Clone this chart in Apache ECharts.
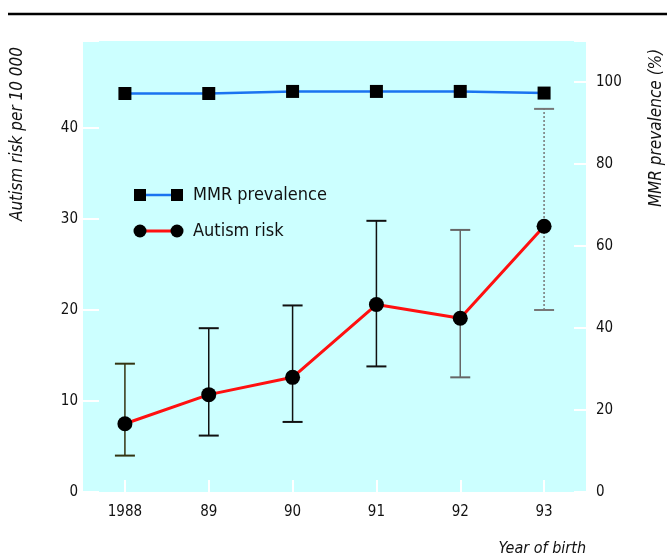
<!DOCTYPE html>
<html>
<head>
<meta charset="utf-8">
<script src="https://cdn.jsdelivr.net/npm/echarts@6/dist/echarts.min.js"></script>
<style>
html,body{margin:0;padding:0;background:#fff;}
#c{width:667px;height:559px;}
</style>
</head>
<body>
<div id="c"></div>
<script>
const years = ['1988', '89', '90', '91', '92', '93'];
const autismRisk = [7.5, 10.7, 12.6, 20.6, 19.1, 29.2];
const autismLow = [4.0, 6.2, 7.7, 13.8, 12.6, 20.0];
const autismHigh = [14.1, 18.0, 20.5, 29.8, 28.8, 42.1];
const mmrPrevalence = [97.2, 97.2, 97.7, 97.7, 97.7, 97.3];
const leftTicks = [0, 10, 20, 30, 40];
const rightTicks = [0, 20, 40, 60, 80, 100];

const errStyles = [
  {stroke: '#333311', dash: null},
  {stroke: '#111111', dash: null},
  {stroke: '#111111', dash: null},
  {stroke: '#111111', dash: null},
  {stroke: '#666666', dash: null},
  {stroke: '#777777', dash: [2, 2]}
];

const FONT = "'Liberation Sans Narrow', 'DejaVu Sans Condensed', 'Liberation Sans', sans-serif";

const chart = echarts.init(document.getElementById('c'), null, {renderer: 'canvas'});

const errData = years.map((y, i) => [i, autismLow[i], autismHigh[i]]);

chart.setOption({
  animation: false,
  backgroundColor: '#ffffff',
  grid: {
    left: 83, right: 81, top: 41, bottom: 67,
    show: true, backgroundColor: '#ccffff', borderWidth: 0
  },
  xAxis: {
    type: 'category',
    data: years,
    boundaryGap: true,
    axisLine: {show: false},
    axisTick: {show: true, inside: true, alignWithLabel: true, length: 12, lineStyle: {color: '#ffffff', width: 2}},
    axisLabel: {color: '#111', fontFamily: FONT, fontSize: 15, margin: 13},
    splitLine: {show: false}
  },
  yAxis: [
    {
      type: 'value', min: 0, max: 49.56, interval: 10, position: 'left',
      axisLine: {show: false},
      axisTick: {show: true, inside: true, length: 16, lineStyle: {color: '#ffffff', width: 2}},
      axisLabel: {color: '#111', fontFamily: FONT, fontSize: 15, margin: 5,
        formatter: v => leftTicks.indexOf(v) >= 0 ? String(v) : ''},
      splitLine: {show: false}
    },
    {
      type: 'value', min: 0, max: 110, interval: 20, position: 'right',
      axisLine: {show: false},
      axisTick: {show: true, inside: true, length: 12, lineStyle: {color: '#ffffff', width: 2}},
      axisLabel: {color: '#111', fontFamily: FONT, fontSize: 15, margin: 10,
        formatter: v => rightTicks.indexOf(v) >= 0 ? String(v) : ''},
      splitLine: {show: false}
    }
  ],
  series: [
    {
      type: 'custom',
      name: 'errors',
      yAxisIndex: 0,
      z: 1,
      data: errData,
      renderItem: function (params, api) {
        const x = api.value(0);
        const lo = api.coord([x, api.value(1)]);
        const hi = api.coord([x, api.value(2)]);
        const st = errStyles[params.dataIndex];
        const half = 10;
        const style = {stroke: st.stroke, lineWidth: 1.5, lineDash: st.dash};
        const capStyle = {stroke: st.stroke, lineWidth: 2};
        return {
          type: 'group',
          children: [
            {type: 'line', shape: {x1: lo[0], y1: lo[1], x2: hi[0], y2: hi[1]}, style: style},
            {type: 'line', shape: {x1: lo[0] - half, y1: lo[1], x2: lo[0] + half, y2: lo[1]}, style: capStyle},
            {type: 'line', shape: {x1: hi[0] - half, y1: hi[1], x2: hi[0] + half, y2: hi[1]}, style: capStyle}
          ]
        };
      }
    },
    {
      type: 'line',
      name: 'Autism risk',
      yAxisIndex: 0,
      z: 3,
      data: autismRisk,
      symbol: 'circle',
      symbolSize: 15,
      itemStyle: {color: '#000000'},
      lineStyle: {color: '#ff1010', width: 3}
    },
    {
      type: 'line',
      name: 'MMR prevalence',
      yAxisIndex: 1,
      z: 3,
      data: mmrPrevalence,
      symbol: 'rect',
      symbolSize: 13,
      itemStyle: {color: '#000000'},
      lineStyle: {color: '#1a73f0', width: 2.5}
    }
  ],
  graphic: [
    {type: 'line', shape: {x1: 8, y1: 14, x2: 667, y2: 14}, style: {stroke: '#000', lineWidth: 2.5}},
    {type: 'text', x: 18, y: 134, rotation: Math.PI / 2,
      style: {text: 'Autism risk per 10 000', fontFamily: FONT, fontStyle: 'italic', fontSize: 17, fill: '#111', align: 'center', verticalAlign: 'middle'}},
    {type: 'text', x: 657, y: 128, rotation: Math.PI / 2,
      style: {text: 'MMR prevalence (%)', fontFamily: FONT, fontStyle: 'italic', fontSize: 17, fill: '#111', align: 'center', verticalAlign: 'middle'}},
    {type: 'text', x: 586, y: 549,
      style: {text: 'Year of birth', fontFamily: FONT, fontStyle: 'italic', fontSize: 16, fill: '#111', align: 'right', verticalAlign: 'middle'}},
    // legend
    {type: 'line', shape: {x1: 140, y1: 195, x2: 176, y2: 195}, style: {stroke: '#1a73f0', lineWidth: 2.5}},
    {type: 'rect', shape: {x: 134, y: 189, width: 12, height: 12}, style: {fill: '#000'}},
    {type: 'rect', shape: {x: 171, y: 189, width: 12, height: 12}, style: {fill: '#000'}},
    {type: 'text', x: 193, y: 195, style: {text: 'MMR prevalence', fontFamily: FONT, fontSize: 18, fill: '#111', verticalAlign: 'middle'}},
    {type: 'line', shape: {x1: 140, y1: 231, x2: 176, y2: 231}, style: {stroke: '#ff1010', lineWidth: 3}},
    {type: 'circle', shape: {cx: 140, cy: 231, r: 6.5}, style: {fill: '#000'}},
    {type: 'circle', shape: {cx: 177, cy: 231, r: 6.5}, style: {fill: '#000'}},
    {type: 'text', x: 193, y: 231, style: {text: 'Autism risk', fontFamily: FONT, fontSize: 18, fill: '#111', verticalAlign: 'middle'}}
  ]
});
</script>
</body>
</html>
